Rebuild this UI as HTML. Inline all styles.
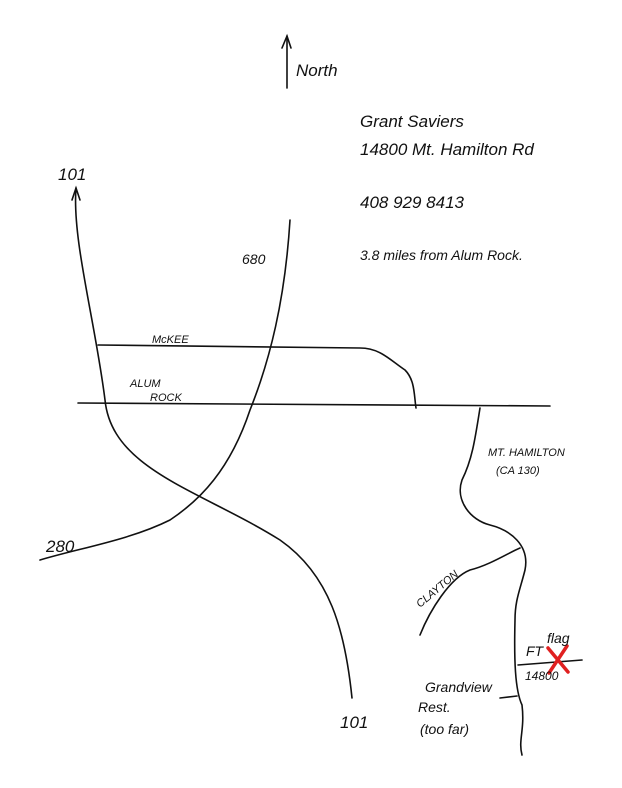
<!DOCTYPE html>
<html><head><meta charset="utf-8"><style>
html,body{margin:0;padding:0;background:#fff;}
svg{display:block}
text{font-family:"Liberation Sans",sans-serif;fill:#111;}
</style></head><body>
<svg width="622" height="788" viewBox="0 0 622 788" xmlns="http://www.w3.org/2000/svg">
<g fill="none" stroke="#111" stroke-width="1.6" stroke-linecap="round">
<!-- north arrow -->
<path d="M287 88 L287 36"/><path d="M282 48 L287 36 L291 48"/>
<!-- 101 -->
<path d="M76 188 C72 240 95 320 105 400 C112 470 200 490 280 540 C330 575 345 630 352 698"/>
<path d="M72 200 L76 188 L80 200"/>
<!-- 680 / 280 -->
<path d="M290 220 C285 300 270 360 250 410 C230 470 200 500 170 520 C130 540 80 548 40 560"/>
<!-- McKee -->
<path d="M98 345 L360 348 C380 348 390 360 405 370 C415 380 414 395 416 408"/>
<!-- Alum Rock -->
<path d="M78 403 L550 406"/>
<!-- Mt Hamilton -->
<path d="M480 408 C475 440 472 460 462 480 C455 500 470 520 490 525 C510 530 530 545 525 570 C520 590 515 600 515 620 C514 660 515 690 522 705 C525 730 518 740 522 755"/>
<!-- Clayton -->
<path d="M420 635 C430 610 450 578 470 570 C490 565 510 552 520 548"/>
<!-- 14800 road -->
<path d="M518 665 L582 660"/>
<!-- Grandview -->
<path d="M500 698 L517 696"/>
</g>
<g stroke="#e02020" stroke-width="3.5" stroke-linecap="round">
<path d="M548 648 L568 672"/><path d="M567 646 L549 673"/>
</g>
<g font-size="17" font-style="italic">
<text x="296" y="76">North</text>
<text x="360" y="127">Grant Saviers</text>
<text x="360" y="155">14800 Mt. Hamilton Rd</text>
<text x="360" y="208">408 929 8413</text>
<text x="360" y="260" font-size="14">3.8 miles from Alum Rock.</text>
<text x="58" y="180">101</text>
<text x="242" y="264" font-size="14">680</text>
<text x="46" y="552">280</text>
<text x="340" y="728">101</text>
<text x="425" y="692" font-size="14">Grandview</text>
<text x="418" y="712" font-size="14">Rest.</text>
<text x="420" y="734" font-size="14">(too far)</text>
<text x="525" y="680" font-size="12">14800</text>
<text x="526" y="656" font-size="14">FT</text>
<text x="547" y="643" font-size="14">flag</text>
</g>
<g font-size="11" font-style="italic">
<text x="152" y="343">McKEE</text>
<text x="130" y="387">ALUM</text>
<text x="150" y="401">ROCK</text>
<text x="488" y="456">MT. HAMILTON</text>
<text x="496" y="474">(CA 130)</text>
<text x="420" y="608" transform="rotate(-40 420 608)">CLAYTON</text>
</g>
</svg>
</body></html>
